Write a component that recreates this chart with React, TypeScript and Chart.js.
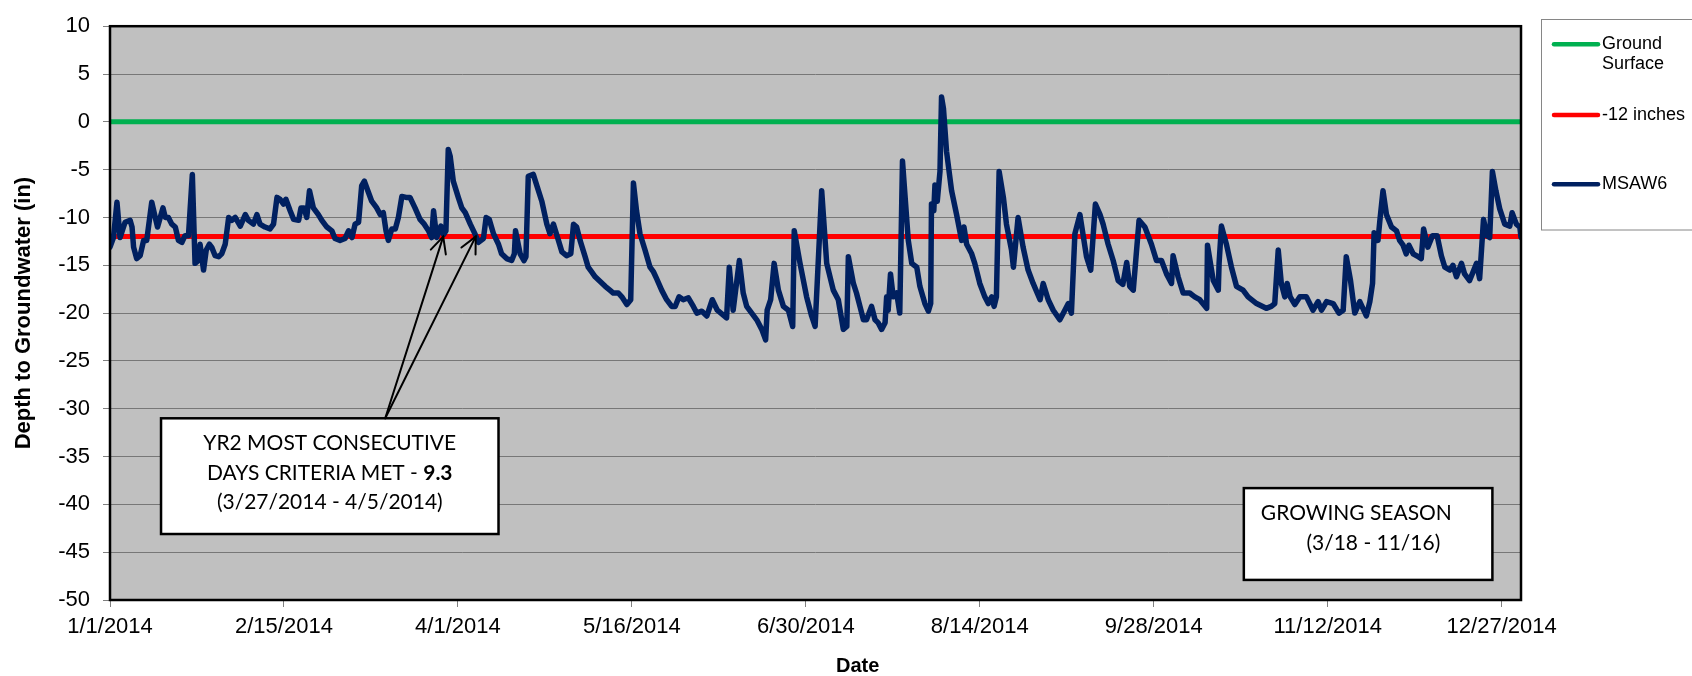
import React, { useEffect, useRef } from 'react';
import { Chart, registerables } from 'chart.js';

Chart.register(...registerables);

// ---------- axis data ----------
const X_TICK_DAYS = [0, 45, 90, 135, 180, 225, 270, 315, 360];
const X_TICK_LABELS = ['1/1/2014', '2/15/2014', '4/1/2014', '5/16/2014', '6/30/2014', '8/14/2014', '9/28/2014', '11/12/2014', '12/27/2014'];
const X_MIN_DAY = 0;
const X_MAX_DAY = 365;
const Y_MIN = -50;
const Y_MAX = 10;
const Y_STEP = 5;
const Y_TITLE = 'Depth to Groundwater (in)';
const X_TITLE = 'Date';

// ---------- series ----------
const SERIES_LABELS = ['Ground Surface', '-12 inches', 'MSAW6'];
const SERIES_COLORS = ['#00B050', '#FF0000', '#002060'];
const REFERENCE_DAYS = [0, 365];
const GROUND_SURFACE_IN = [0, 0];
const CRITERIA_IN = [-12, -12];

// [day of 2014 (0 = 1/1/2014), depth in inches]
const MSAW6_READINGS: [number, number][] = [
  [0.0, -13.1], [0.9, -12.1], [1.8, -8.4], [2.6, -12.1], [3.9, -10.5], [5.2, -10.3], [5.7, -11.0], [6.1, -13.1],
  [6.9, -14.3], [7.8, -14.0], [8.7, -12.4], [9.5, -12.4], [10.8, -8.4], [11.7, -10.0], [12.3, -11.0], [13.0, -10.0],
  [13.7, -9.0], [14.3, -10.0], [15.1, -10.0], [16.0, -10.7], [16.9, -11.0], [17.7, -12.4], [18.6, -12.6], [19.4, -11.9],
  [20.3, -11.9], [21.3, -5.5], [22.0, -14.8], [22.9, -14.5], [23.3, -12.8], [24.2, -15.5], [24.9, -13.4], [25.7, -12.8],
  [26.3, -13.1], [27.2, -14.0], [28.1, -14.1], [28.9, -13.8], [29.8, -12.8], [30.7, -10.0], [31.5, -10.3], [32.4, -10.0],
  [33.7, -10.9], [35.0, -9.7], [35.8, -10.3], [37.1, -10.7], [38.0, -9.7], [38.8, -10.7], [40.1, -11.0], [41.4, -11.2],
  [42.3, -10.7], [43.2, -7.9], [44.0, -8.1], [44.9, -8.6], [45.5, -8.1], [46.6, -9.3], [47.5, -10.2], [48.8, -10.3],
  [49.4, -9.0], [50.2, -9.0], [50.9, -10.0], [51.6, -7.2], [52.6, -9.0], [53.9, -9.7], [54.8, -10.3], [56.1, -11.0],
  [57.4, -11.4], [58.2, -12.2], [59.5, -12.4], [60.8, -12.2], [61.7, -11.4], [62.6, -12.1], [63.4, -10.7], [64.3, -10.5],
  [65.1, -6.7], [65.8, -6.2], [66.7, -7.2], [67.7, -8.3], [69.0, -9.0], [69.9, -9.7], [70.7, -9.5], [71.4, -11.4],
  [72.0, -12.4], [72.9, -11.2], [73.8, -11.2], [74.6, -10.0], [75.5, -7.8], [76.6, -7.9], [77.6, -7.9], [78.9, -9.0],
  [80.2, -10.2], [81.3, -10.7], [82.4, -11.4], [83.2, -12.1], [83.7, -9.3], [84.5, -12.1], [85.6, -10.9], [86.3, -11.8],
  [86.9, -11.4], [87.5, -2.9], [88.0, -3.6], [88.8, -6.2], [90.1, -7.9], [91.0, -9.0], [91.9, -9.5], [93.2, -10.7],
  [94.5, -11.8], [95.3, -12.6], [96.6, -12.2], [97.3, -10.0], [98.1, -10.2], [99.2, -11.7], [100.5, -12.8], [101.3, -13.8],
  [102.6, -14.3], [103.9, -14.5], [104.6, -13.8], [104.9, -11.4], [106.1, -13.8], [107.1, -14.5], [107.6, -14.1], [108.2, -5.7],
  [109.5, -5.5], [110.6, -6.9], [111.7, -8.3], [113.0, -10.7], [113.8, -11.7], [114.7, -10.7], [116.0, -12.4], [116.9, -13.6],
  [118.1, -14.0], [119.2, -13.8], [119.9, -10.7], [120.7, -11.0], [121.6, -12.4], [122.9, -14.1], [123.7, -15.2], [124.6, -15.7],
  [125.5, -16.2], [126.8, -16.7], [128.1, -17.2], [129.3, -17.6], [130.2, -17.9], [131.5, -17.9], [132.4, -18.3], [133.7, -19.1],
  [134.7, -18.6], [135.4, -6.4], [136.2, -9.3], [137.1, -11.7], [138.4, -13.4], [139.7, -15.2], [140.6, -15.7], [141.4, -16.4],
  [142.7, -17.6], [144.0, -18.6], [145.3, -19.3], [146.2, -19.3], [147.2, -18.3], [148.3, -18.6], [149.6, -18.4], [150.9, -19.3],
  [151.8, -20.0], [153.1, -19.8], [154.4, -20.3], [155.8, -18.6], [157.1, -19.7], [159.5, -20.5], [160.2, -15.2], [161.2, -19.7],
  [162.8, -14.5], [163.8, -17.9], [164.7, -19.3], [166.0, -20.0], [167.3, -20.7], [168.6, -21.7], [169.6, -22.8], [170.0, -19.7],
  [170.9, -18.6], [171.8, -14.8], [172.9, -17.6], [174.2, -19.3], [175.5, -19.7], [176.6, -21.4], [177.0, -11.4], [178.5, -14.8],
  [180.2, -18.3], [181.5, -20.3], [182.4, -21.4], [184.1, -7.2], [185.4, -14.8], [187.1, -17.6], [188.4, -18.6], [189.7, -21.7],
  [190.6, -21.4], [191.0, -14.1], [192.3, -16.9], [193.1, -17.9], [194.0, -19.3], [194.9, -20.7], [195.7, -20.7], [197.0, -19.3],
  [197.9, -20.7], [198.7, -21.0], [199.6, -21.7], [200.5, -21.0], [200.9, -18.3], [201.3, -19.7], [201.9, -15.9], [202.6, -18.3],
  [203.5, -17.9], [204.3, -20.0], [205.0, -4.1], [206.5, -12.4], [207.4, -14.8], [208.7, -15.2], [209.5, -17.2], [210.8, -19.0],
  [211.7, -19.8], [212.3, -19.0], [212.5, -8.6], [213.1, -9.3], [213.4, -6.6], [214.0, -8.3], [214.7, -5.2], [215.1, 2.6],
  [215.6, 1.4], [216.4, -3.1], [217.7, -7.2], [219.0, -9.7], [220.3, -12.4], [220.9, -11.0], [221.6, -12.8], [222.9, -13.8],
  [223.7, -14.8], [225.0, -16.9], [226.3, -18.3], [227.2, -19.0], [228.1, -18.3], [228.7, -19.3], [229.3, -18.3], [230.0, -5.2],
  [231.1, -7.9], [231.9, -10.7], [233.2, -13.4], [233.7, -15.2], [234.9, -10.0], [236.2, -13.1], [237.5, -15.5], [238.8, -16.9],
  [240.6, -18.6], [241.4, -16.9], [242.7, -18.6], [244.0, -19.7], [245.7, -20.7], [247.0, -19.7], [247.9, -19.0], [248.7, -20.0],
  [249.6, -11.7], [250.9, -9.7], [252.6, -14.1], [253.7, -15.5], [254.9, -8.6], [256.1, -9.7], [256.9, -10.7], [258.2, -12.8],
  [259.5, -14.5], [260.8, -16.6], [262.0, -17.0], [263.0, -14.7], [263.8, -17.2], [264.7, -17.6], [266.2, -10.3], [267.7, -11.0],
  [269.4, -12.8], [270.7, -14.5], [272.0, -14.5], [273.3, -15.9], [274.6, -16.9], [275.0, -14.0], [276.3, -16.2], [277.6, -17.9],
  [279.3, -17.9], [280.6, -18.3], [281.9, -18.6], [283.7, -19.5], [283.9, -12.9], [285.4, -16.6], [286.7, -17.6], [286.9, -14.8],
  [287.5, -10.9], [288.8, -12.8], [290.1, -15.2], [291.4, -17.2], [293.1, -17.6], [294.4, -18.3], [296.6, -19.0], [299.1, -19.5],
  [300.4, -19.3], [301.3, -19.0], [302.2, -13.4], [303.0, -16.9], [303.9, -18.3], [304.5, -16.9], [305.3, -18.3], [306.5, -19.1],
  [307.8, -18.3], [309.5, -18.3], [311.2, -19.7], [312.5, -18.8], [313.4, -19.7], [314.7, -18.8], [316.4, -19.0], [317.9, -20.0],
  [319.0, -19.7], [319.8, -14.1], [320.9, -16.6], [322.0, -20.0], [323.3, -18.8], [325.0, -20.3], [325.9, -18.8], [326.6, -16.9],
  [327.0, -11.6], [328.0, -12.4], [328.5, -10.3], [329.3, -7.2], [330.2, -9.7], [331.5, -11.0], [332.8, -11.4], [333.6, -12.4],
  [334.5, -12.9], [335.3, -13.8], [336.0, -12.9], [337.1, -13.8], [338.4, -14.1], [339.2, -14.3], [339.8, -11.2], [340.9, -13.1],
  [342.1, -11.9], [343.3, -11.9], [344.4, -14.0], [345.3, -15.2], [346.6, -15.5], [347.4, -15.0], [348.3, -16.2], [349.6, -14.8],
  [350.4, -15.9], [351.7, -16.6], [353.5, -14.8], [354.3, -16.4], [355.3, -10.2], [356.2, -11.9], [356.9, -12.1], [357.6, -5.2],
  [358.5, -7.2], [359.5, -9.1], [360.8, -10.7], [362.1, -10.9], [362.7, -9.5], [363.8, -10.7], [364.7, -11.0], [365.0, -12.1],
];

// ---------- annotation texts ----------
const CRITERIA_NOTE_LINE1 = 'YR2 MOST CONSECUTIVE';
const CRITERIA_NOTE_LINE2 = 'DAYS CRITERIA MET - ';
const CRITERIA_NOTE_VALUE = '9.3';
const CRITERIA_NOTE_LINE3 = '(3/27/2014 - 4/5/2014)';
const CRITERIA_ARROW_DAYS = [86.2, 94.6];
const SEASON_NOTE_LINES = ['GROWING SEASON', '(3/18 - 11/16)'];

const AXIS_FONT = "'Liberation Sans', Arial, sans-serif";
const NOTE_FONT = "Lato, 'Open Sans', sans-serif";

Chart.defaults.font.family = AXIS_FONT;
Chart.defaults.color = '#000000';

function drawArrow(ctx: CanvasRenderingContext2D, x0: number, y0: number, x1: number, y1: number) {
  ctx.beginPath();
  ctx.moveTo(x0, y0);
  ctx.lineTo(x1, y1);
  ctx.stroke();
  const ang = Math.atan2(y0 - y1, x0 - x1);
  const len = 18;
  const spread = (26 * Math.PI) / 180;
  ctx.beginPath();
  ctx.moveTo(x1 + len * Math.cos(ang - spread), y1 + len * Math.sin(ang - spread));
  ctx.lineTo(x1, y1);
  ctx.lineTo(x1 + len * Math.cos(ang + spread), y1 + len * Math.sin(ang + spread));
  ctx.stroke();
}

function wrapWords(ctx: CanvasRenderingContext2D, text: string, maxW: number): string[] {
  const words = text.split(' ');
  const lines: string[] = [];
  let cur = '';
  for (const w of words) {
    const test = cur ? cur + ' ' + w : w;
    if (cur && ctx.measureText(test).width > maxW) {
      lines.push(cur);
      cur = w;
    } else cur = test;
  }
  if (cur) lines.push(cur);
  return lines;
}

const decorPlugin = {
  id: 'decorPlugin',
  beforeDraw(chart: any) {
    const { ctx, chartArea: a } = chart;
    ctx.save();
    ctx.fillStyle = '#FFFFFF';
    ctx.fillRect(0, 0, chart.width, chart.height);
    ctx.fillStyle = '#C0C0C0';
    ctx.fillRect(a.left, a.top, a.right - a.left, a.bottom - a.top);
    ctx.restore();
  },
  afterDatasetsDraw(chart: any) {
    const { ctx, chartArea: a, scales } = chart;
    const xs = scales.x;
    const ys = scales.y;
    ctx.save();
    // plot border
    ctx.strokeStyle = '#000000';
    ctx.lineWidth = 2.5;
    ctx.strokeRect(a.left, a.top, a.right - a.left, a.bottom - a.top);

    // note font sized to the reference text width
    ctx.font = `100px ${NOTE_FONT}`;
    const w100 = ctx.measureText(CRITERIA_NOTE_LINE1).width;
    const fs = (100 * 253) / w100;

    // criteria note box
    const b1x0 = xs.getPixelForValue(13.2);
    const b1x1 = xs.getPixelForValue(100.5);
    const b1y0 = ys.getPixelForValue(-31.0);
    const b1y1 = ys.getPixelForValue(-43.1);
    ctx.fillStyle = '#FFFFFF';
    ctx.fillRect(b1x0, b1y0, b1x1 - b1x0, b1y1 - b1y0);
    ctx.lineWidth = 2.5;
    ctx.strokeRect(b1x0, b1y0, b1x1 - b1x0, b1y1 - b1y0);
    const cx = (b1x0 + b1x1) / 2;
    ctx.fillStyle = '#000000';
    ctx.textBaseline = 'middle';
    ctx.textAlign = 'center';
    ctx.font = `${fs}px ${NOTE_FONT}`;
    ctx.fillText(CRITERIA_NOTE_LINE1, cx, ys.getPixelForValue(-33.65));
    ctx.fillText(CRITERIA_NOTE_LINE3, cx, ys.getPixelForValue(-39.8));
    const wA = ctx.measureText(CRITERIA_NOTE_LINE2).width;
    ctx.font = `bold ${fs}px ${NOTE_FONT}`;
    const wB = ctx.measureText(CRITERIA_NOTE_VALUE).width;
    const l2y = ys.getPixelForValue(-36.7);
    ctx.textAlign = 'left';
    const sx = cx - (wA + wB) / 2;
    ctx.font = `${fs}px ${NOTE_FONT}`;
    ctx.fillText(CRITERIA_NOTE_LINE2, sx, l2y);
    ctx.font = `bold ${fs}px ${NOTE_FONT}`;
    ctx.fillText(CRITERIA_NOTE_VALUE, sx + wA, l2y);

    // arrows
    ctx.strokeStyle = '#000000';
    ctx.lineWidth = 2;
    ctx.lineCap = 'round';
    const ox = xs.getPixelForValue(71.2);
    const oy = b1y0;
    CRITERIA_ARROW_DAYS.forEach((d) => {
      drawArrow(ctx, ox, oy, xs.getPixelForValue(d), ys.getPixelForValue(CRITERIA_IN[0]));
    });

    // growing season box
    const b2x0 = xs.getPixelForValue(293.3);
    const b2x1 = xs.getPixelForValue(357.6);
    const b2y0 = ys.getPixelForValue(-38.3);
    const b2y1 = ys.getPixelForValue(-47.9);
    ctx.fillStyle = '#FFFFFF';
    ctx.fillRect(b2x0, b2y0, b2x1 - b2x0, b2y1 - b2y0);
    ctx.lineWidth = 2.5;
    ctx.strokeRect(b2x0, b2y0, b2x1 - b2x0, b2y1 - b2y0);
    ctx.fillStyle = '#000000';
    ctx.font = `${fs}px ${NOTE_FONT}`;
    ctx.textAlign = 'left';
    ctx.fillText(SEASON_NOTE_LINES[0], xs.getPixelForValue(297.7), ys.getPixelForValue(-40.9));
    ctx.fillText(SEASON_NOTE_LINES[1], xs.getPixelForValue(309.5), ys.getPixelForValue(-44.1));
    ctx.restore();
  },
  afterDraw(chart: any) {
    const { ctx } = chart;
    ctx.save();
    // legend
    ctx.strokeStyle = '#868686';
    ctx.lineWidth = 1;
    ctx.strokeRect(1541.5, 19.5, 200, 210.5);
    ctx.font = `18px ${AXIS_FONT}`;
    ctx.textBaseline = 'middle';
    ctx.textAlign = 'left';
    const itemY = [44.3, 115, 184.3];
    SERIES_LABELS.forEach((label, i) => {
      const y = itemY[i];
      ctx.strokeStyle = SERIES_COLORS[i];
      ctx.lineWidth = 4.5;
      ctx.lineCap = 'round';
      ctx.beginPath();
      ctx.moveTo(1554, y);
      ctx.lineTo(1598, y);
      ctx.stroke();
      ctx.fillStyle = '#000000';
      const lines = wrapWords(ctx, label, 86);
      lines.forEach((ln, j) => ctx.fillText(ln, 1602, y + j * 20));
    });
    // x axis title
    ctx.font = `bold 20px ${AXIS_FONT}`;
    ctx.textAlign = 'center';
    ctx.fillStyle = '#000000';
    ctx.fillText(X_TITLE, 857.7, 666.7);
    ctx.restore();
  },
};

export default function App() {
  const canvasRef = useRef<HTMLCanvasElement>(null);

  useEffect(() => {
    const canvas = canvasRef.current;
    if (!canvas) return;
    const chart = new Chart(canvas, {
      type: 'line',
      data: {
        datasets: [
          {
            label: SERIES_LABELS[0],
            data: REFERENCE_DAYS.map((d, i) => ({ x: d, y: GROUND_SURFACE_IN[i] })),
            borderColor: SERIES_COLORS[0],
            backgroundColor: SERIES_COLORS[0],
            borderWidth: 5,
            pointRadius: 0,
            tension: 0,
            order: 2,
          },
          {
            label: SERIES_LABELS[1],
            data: REFERENCE_DAYS.map((d, i) => ({ x: d, y: CRITERIA_IN[i] })),
            borderColor: SERIES_COLORS[1],
            backgroundColor: SERIES_COLORS[1],
            borderWidth: 5,
            pointRadius: 0,
            tension: 0,
            order: 1,
          },
          {
            label: SERIES_LABELS[2],
            data: MSAW6_READINGS.map(([d, v]) => ({ x: d, y: v })),
            borderColor: SERIES_COLORS[2],
            backgroundColor: SERIES_COLORS[2],
            borderWidth: 5.5,
            pointRadius: 0,
            tension: 0,
            borderJoinStyle: 'round',
            borderCapStyle: 'round',
            order: 0,
          },
        ],
      },
      options: {
        animation: false,
        responsive: false,
        devicePixelRatio: 1,
        layout: { padding: { left: 0, top: 20, right: 171, bottom: 0 } },
        plugins: {
          legend: { display: false },
          tooltip: { enabled: false },
          title: { display: false },
        },
        scales: {
          x: {
            type: 'linear',
            min: X_MIN_DAY,
            max: X_MAX_DAY,
            afterBuildTicks: (s: any) => {
              s.ticks = X_TICK_DAYS.map((v) => ({ value: v }));
            },
            ticks: {
              autoSkip: false,
              maxRotation: 0,
              minRotation: 0,
              padding: 6.5,
              color: '#000000',
              font: { size: 22 },
              callback: (v: any) => {
                const i = X_TICK_DAYS.indexOf(Number(v));
                return i >= 0 ? X_TICK_LABELS[i] : '';
              },
            },
            grid: { drawOnChartArea: false, drawTicks: true, tickLength: 7, tickColor: '#808080' },
            border: { display: false },
            afterFit: (s: any) => {
              s.height = 76;
            },
          },
          y: {
            type: 'linear',
            min: Y_MIN,
            max: Y_MAX,
            ticks: { stepSize: Y_STEP, padding: 13, color: '#000000', font: { size: 22 } },
            grid: { color: '#777777', lineWidth: 1, drawTicks: true, tickLength: 7, tickColor: '#808080' },
            border: { display: false },
            title: {
              display: true,
              text: Y_TITLE,
              color: '#000000',
              font: { size: 22, weight: 'bold' },
              padding: { top: 11, bottom: 0 },
            },
            afterFit: (s: any) => {
              s.width = 110;
            },
          },
        },
      } as any,
      plugins: [decorPlugin],
    });
    return () => chart.destroy();
  }, []);

  return (
    <div style={{ position: 'absolute', left: 0, top: 0, width: 1692, height: 676, background: '#ffffff' }}>
      <canvas ref={canvasRef} width={1692} height={676} style={{ display: 'block', width: 1692, height: 676 }} />
    </div>
  );
}
